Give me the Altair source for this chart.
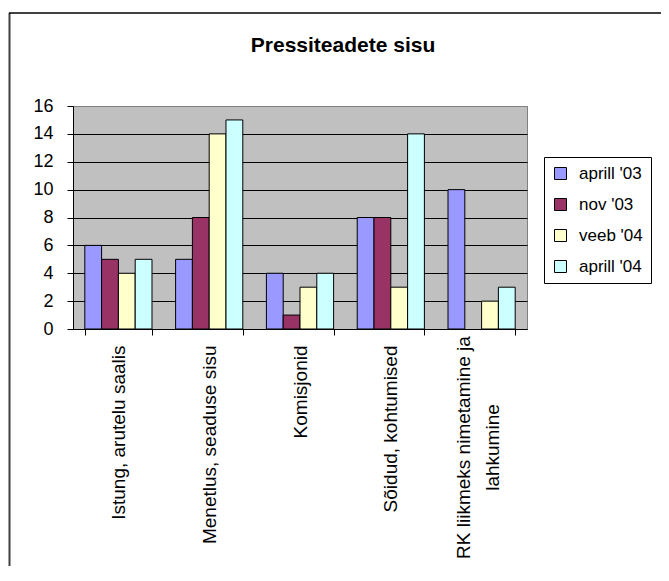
import altair as alt
import pandas as pd

# ---- data ----
categories = [
    "Istung, arutelu saalis",
    "Menetlus, seaduse sisu",
    "Komisjonid",
    "Sõidud, kohtumised",
    "RK liikmeks nimetamine ja lahkumine",
]
series = ["aprill '03", "nov '03", "veeb '04", "aprill '04"]
aprill_03 = [6, 5, 4, 8, 10]
nov_03 = [5, 8, 1, 8, None]
veeb_04 = [4, 14, 3, 3, 2]
aprill_04 = [5, 15, 4, 14, 3]
colors = ["#9999FF", "#993366", "#FFFFCC", "#CCFFFF"]
y_ticks = [0, 2, 4, 6, 8, 10, 12, 14, 16]
title_text = "Pressiteadete sisu"

FONT = "Liberation Sans, Arial, Helvetica, sans-serif"

rows = []
for s, vals in zip(series, [aprill_03, nov_03, veeb_04, aprill_04]):
    for c, v in zip(categories, vals):
        if v is not None:
            rows.append({"category": c, "series": s, "value": v})
df = pd.DataFrame(rows)

rk_test = "datum.value == 'RK liikmeks nimetamine ja lahkumine'"

bars = alt.Chart(df).mark_bar(stroke="black", strokeWidth=1).encode(
    x=alt.X(
        "category:N",
        sort=categories,
        scale=alt.Scale(domain=categories, paddingInner=0.26, paddingOuter=0.13),
        axis=alt.Axis(
            title=None,
            labelAngle=-90,
            tickBand="extent",
            tickSize=6,
            tickColor="black",
            domainColor="black",
            labelColor="black",
            labelFont=FONT,
            labelFontSize=19,
            labelLimit=400,
            labelLineHeight=29,
            labelAlign={"condition": {"test": rk_test, "value": "center"}, "value": "right"},
            labelPadding={"condition": {"test": rk_test, "value": 112}, "value": 10},
            labelOffset={"condition": {"test": rk_test, "value": -18}, "value": 0},
            labelExpr=rk_test + " ? ['RK liikmeks nimetamine ja', 'lahkumine'] : datum.label",
            grid=False,
        ),
    ),
    xOffset=alt.XOffset(
        "series:N",
        sort=series,
        scale=alt.Scale(domain=series, paddingInner=0, paddingOuter=0),
    ),
    y=alt.Y(
        "value:Q",
        scale=alt.Scale(domain=[0, 16], nice=False),
        axis=alt.Axis(
            title=None,
            values=y_ticks,
            tickSize=6,
            tickColor="black",
            domainColor="black",
            labelColor="black",
            labelFont=FONT,
            labelFontSize=18,
            labelPadding=14,
            grid=True,
            gridColor={"condition": {"test": "datum.value == 16", "value": "#808080"}, "value": "black"},
            gridWidth=1,
        ),
    ),
    fill=alt.Fill(
        "series:N",
        sort=series,
        scale=alt.Scale(domain=series, range=colors),
        legend=alt.Legend(
            title=None,
            orient="none",
            legendX=471,
            legendY=51,
            symbolType="square",
            symbolSize=144,
            symbolStrokeColor="black",
            symbolStrokeWidth=1,
            labelFont=FONT,
            labelFontSize=17,
            labelColor="black",
            labelOffset=10,
            strokeColor="black",
            fillColor="white",
            padding=8,
            rowPadding=13,
            cornerRadius=0,
        ),
    ),
)

frame_df = pd.DataFrame({"k": [0]})
left_rule = alt.Chart(frame_df).mark_rule(color="#404040", strokeWidth=2).encode(
    x=alt.value(-63.5), y=alt.value(-93), y2=alt.value(700)
)
top_rule = alt.Chart(frame_df).mark_rule(color="black", strokeWidth=1.5).encode(
    x=alt.value(-64), x2=alt.value(800), y=alt.value(-93)
)

title_mark = alt.Chart(pd.DataFrame({"t": [title_text]})).mark_text(
    font=FONT, fontSize=21, fontWeight="bold", align="center", baseline="alphabetic", color="black"
).encode(text="t:N", x=alt.value(270), y=alt.value(-54))

chart = alt.layer(bars, left_rule, top_rule, title_mark).properties(
    width=454,
    height=223,
    autosize=alt.AutoSizeParams(type="none"),
    padding={"left": 65, "top": 98, "right": 134, "bottom": 237},
    background="white",
).configure_view(
    fill="#C0C0C0", stroke="#808080", strokeWidth=1
)

chart.save("out.html", embed_options={"renderer": "svg", "actions": False})
